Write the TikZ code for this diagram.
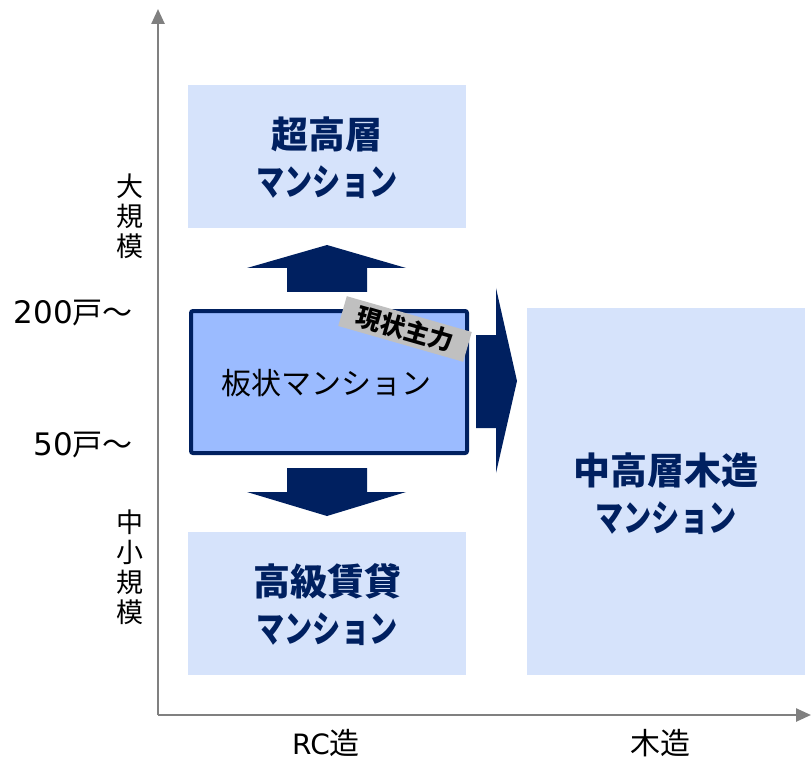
\documentclass[tikz,border=0pt]{standalone}
\usepackage{fontspec}
\setmainfont{Noto Sans CJK JP}
\newfontfamily\latinf{DejaVu Sans}
\usetikzlibrary{arrows.meta}
\definecolor{navy}{RGB}{0,32,96}
\definecolor{lightbox}{RGB}{214,227,251}
\definecolor{mainfill}{RGB}{155,187,255}
\definecolor{axisgray}{RGB}{128,128,128}
\definecolor{taggray}{RGB}{192,192,192}
\tikzset{
  catbox/.style={fill=lightbox, draw=none, minimum width=278pt, inner sep=0pt, anchor=north west},
  cattext/.style={text=navy, font=\fontsize{37}{47}\selectfont\bfseries, align=center},
  axisline/.style={draw=axisgray, line width=2.5pt, -{Triangle[length=15pt,width=13pt]}},
  axlabel/.style={font=\fontsize{27}{30}\selectfont, text=black, inner sep=0pt},
  blockarrow/.style={fill=navy, draw=none}
}
\newcommand{\lat}[2][28]{{\latinf\fontsize{#1}{30}\selectfont #2}}
\newcommand{\kn}[1]{\scalebox{0.76}[1]{#1}}
\newcommand{\cj}[1]{{\fontsize{30}{30}\selectfont #1}}
\begin{document}
\begin{tikzpicture}[x=1pt,y=-1pt]
\useasboundingbox (0,0) rectangle (811,759);
% axes
\coordinate (O) at (158,715);
\coordinate (ytip) at (158,9);
\coordinate (xtip) at (811,715);
\draw[axisline] (O) -- (ytip);
\draw[axisline] (O) -- (xtip);
% boxes
\node[catbox, minimum height=143pt] (top) at (188,85) {};
\node[cattext] (toptxt) at (327,158) {超高層\\\kn{マンション}};
\node[catbox, minimum height=143pt] (bot) at (188,532) {};
\node[cattext] (bottxt) at (327,605) {高級賃貸\\\kn{マンション}};
\node[catbox, minimum height=367pt] (right) at (527,308) {};
\node[cattext] (righttxt) at (666,494) {中高層木造\\\kn{マンション}};
% main box
\node[draw=navy, line width=4pt, fill=mainfill, rounded corners=2pt, minimum width=276pt, minimum height=142pt, anchor=north west, inner sep=0pt] (main) at (189,309) {};
\node[font=\fontsize{30}{34}\selectfont, text=black] (maintxt) at (326,383) {板状マンション};
% tag
\node[fill=taggray, rotate=-16, minimum width=130pt, minimum height=31pt, inner sep=0pt, font=\fontsize{25}{26}\selectfont\bfseries] (tag) at (405,329) {現状主力};
% block arrows
\fill[blockarrow] (287,292) -- (287,268) -- (247,268) -- (327,245) -- (406,268) -- (367,268) -- (367,292) -- cycle;
\fill[blockarrow] (287,468) -- (367,468) -- (367,492) -- (406,492) -- (327,516) -- (247,492) -- (287,492) -- cycle;
\fill[blockarrow] (476,335) -- (496,335) -- (496,288) -- (517,381) -- (496,473) -- (496,428) -- (476,428) -- cycle;
% axis labels
\node[axlabel, align=center] (big) at (130,216) {大\\規\\模};
\node[axlabel, align=center] (small) at (130,567) {中\\小\\規\\模};
\node[axlabel, anchor=east] (l200) at (133,313) {\lat[31]{200}\cj{戸～}};
\node[axlabel, anchor=east] (l50) at (133,445) {\lat[31]{50}\cj{戸～}};
\node[axlabel] (rc) at (326,743) {\lat{RC}\cj{造}};
\node[axlabel] (wood) at (660,743) {\cj{木造}};
\end{tikzpicture}
\end{document}
